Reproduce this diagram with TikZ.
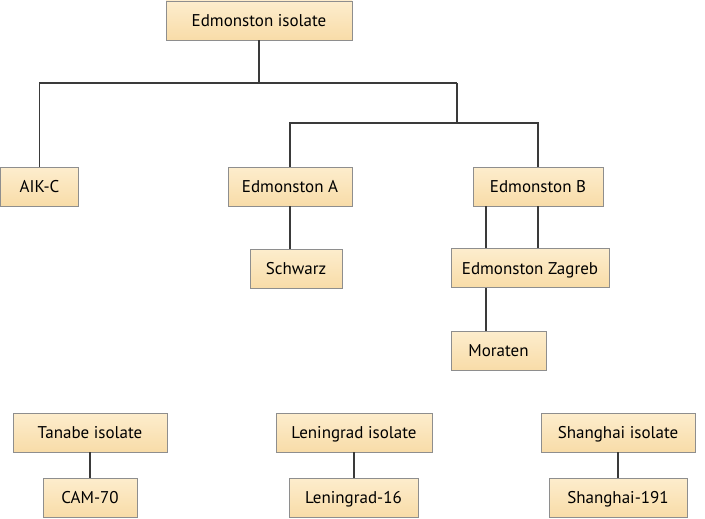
\documentclass[tikz,border=0pt]{standalone}
\usepackage{fontspec}
\setmainfont{PT Sans}
\usetikzlibrary{positioning,calc}
\definecolor{boxtop}{HTML}{FDEDCD}
\definecolor{boxbot}{HTML}{F8DCA8}
\definecolor{boxline}{HTML}{8E8E8E}
\definecolor{linkgray}{HTML}{3A3A3A}

\tikzset{
  strain/.style={draw=boxline, line width=0.8pt, top color=boxtop, bottom color=boxbot,
    inner sep=0pt, minimum height=39pt, text height=12pt, text depth=0pt,
    font=\fontsize{17}{19}\selectfont},
  link/.style={draw=linkgray, line width=1.2pt}
}

\begin{document}
\begin{tikzpicture}[x=1pt, y=-1pt]

  % ---- Frame ----
  \useasboundingbox (0,0) rectangle (705,519);

  % ---- Edmonston lineage ----
  \node[strain, minimum width=186pt] (iso) at (259,20.5) {Edmonston isolate};
  \node[strain, minimum width=78pt] (aik) at (39.5,187) {AIK-C};
  \node[strain, minimum width=124pt] (edA) at (290,186.5) {Edmonston A};
  \node[strain, minimum width=130pt] (edB) at (538,186.5) {Edmonston B};
  \node[strain, minimum width=92pt] (sch) at (296,268.5) {Schwarz};
  \node[strain, minimum width=158pt] (zag) at (530,268) {Edmonston Zagreb};
  \node[strain, minimum width=95pt] (mor) at (498.5,350.5) {Moraten};

  % Branch points
  \coordinate (j1) at (457,83);
  \coordinate (j2) at (457,123);
  \coordinate (bl) at (486,0);

  \draw[link] (iso.south) |- (j1);
  \draw[link] (aik.north) |- (j1);
  \draw[link] (j1) -- (j2);
  \draw[link] (edA.north) |- (j2);
  \draw[link] (edB.north) |- (j2);
  \draw[link] (edA.south) -- (edA.south |- sch.north);
  \draw[link] (edB.south) -- (edB.south |- zag.north);
  \draw[link] (bl |- edB.south) -- (bl |- zag.north);
  \draw[link] (bl |- zag.south) -- (bl |- mor.north);

  % ---- Other isolates ----
  \node[strain, minimum width=154pt] (tan) at (90,432.5) {Tanabe isolate};
  \node[strain, minimum width=94pt] (cam) at (90,497.5) {CAM-70};
  \node[strain, minimum width=156pt] (len) at (354,432.5) {Leningrad isolate};
  \node[strain, minimum width=129pt] (l16) at (353.5,497.5) {Leningrad-16};
  \node[strain, minimum width=154pt] (sha) at (618,432.5) {Shanghai isolate};
  \node[strain, minimum width=138pt] (s191) at (618,497.5) {Shanghai-191};

  \draw[link] (tan.south) -- (tan.south |- cam.north);
  \draw[link] (len.south) -- (len.south |- l16.north);
  \draw[link] (sha.south) -- (sha.south |- s191.north);

\end{tikzpicture}
\end{document}
